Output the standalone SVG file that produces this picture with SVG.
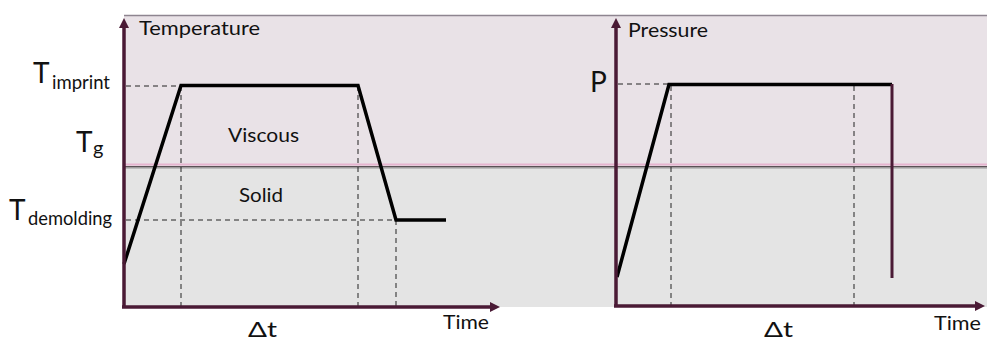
<svg xmlns="http://www.w3.org/2000/svg" width="987" height="342" viewBox="0 0 987 342">
<defs>
<style>
.lbl{font-family:Lato,"Open Sans","Liberation Sans",sans-serif;fill:#111}
.axis{stroke:#4a1a35;stroke-width:3.5;fill:none}
.curve{stroke:#000;stroke-width:3.5;fill:none;stroke-linejoin:miter}
.dash{stroke:#222;stroke-width:1;stroke-dasharray:5,4;fill:none}
</style>
<marker id="arr" markerWidth="10" markerHeight="10" refX="6" refY="5" orient="auto" markerUnits="userSpaceOnUse">
<path d="M0,0 L10,5 L0,10 Z" fill="#4a1a35"/>
</marker>
</defs>
<rect width="987" height="342" fill="#fff"/>
<g id="background">
<rect x="124" y="16" width="863" height="150" fill="#e9e2e7"/>
<rect x="124" y="166" width="863" height="141" fill="#e4e4e4"/>
<line x1="124" y1="15.5" x2="987" y2="15.5" stroke="#8e8590" stroke-width="1.5"/>
<line x1="124" y1="164.5" x2="987" y2="164.5" stroke="#e6b4cf" stroke-width="2"/>
<line x1="124" y1="166.8" x2="987" y2="166.8" stroke="#5a5256" stroke-width="1.6"/>
<line x1="124" y1="168.5" x2="987" y2="168.5" stroke="#bdbdbd" stroke-width="1.2"/>
</g>
<g id="connectors">
<g id="temp-guides">
<line class="dash" x1="126" y1="86" x2="181" y2="86"/>
<line class="dash" x1="181" y1="86" x2="181" y2="306"/>
<line class="dash" x1="358" y1="86" x2="358" y2="306"/>
<line class="dash" x1="126" y1="220" x2="396" y2="220"/>
<line class="dash" x1="396" y1="220" x2="396" y2="306"/>
</g>
<g id="press-guides">
<line class="dash" x1="618" y1="84" x2="669" y2="84"/>
<line class="dash" x1="671" y1="86" x2="671" y2="305"/>
<line class="dash" x1="854" y1="86" x2="854" y2="305"/>
</g>
<path class="curve" d="M124,264 L181,85.5 L358,85.5 L396,220 L446,220"/>
<path class="curve" d="M617,277 L669,84.5 L892,84.5"/>
<line x1="892" y1="84" x2="892" y2="278" stroke="#4a1a35" stroke-width="3"/>
<line class="axis" x1="124" y1="308" x2="124" y2="22" marker-end="url(#arr)"/>
<line class="axis" x1="122" y1="307" x2="496" y2="307" marker-end="url(#arr)"/>
<line class="axis" x1="616" y1="307" x2="616" y2="22" marker-end="url(#arr)"/>
<line class="axis" x1="614" y1="306" x2="981" y2="306" marker-end="url(#arr)"/>
</g>
<g id="temperature-labels">
<text class="lbl" x="139" y="35" font-size="20" textLength="121" lengthAdjust="spacingAndGlyphs">Temperature</text>
<text class="lbl" x="33" y="83" font-size="28">T</text>
<text class="lbl" x="52" y="89" font-size="20" textLength="58" lengthAdjust="spacingAndGlyphs">imprint</text>
<text class="lbl" x="76" y="152" font-size="28">T</text>
<text class="lbl" x="93" y="155" font-size="20">g</text>
<text class="lbl" x="9" y="220" font-size="28">T</text>
<text class="lbl" x="28" y="225" font-size="20" textLength="84" lengthAdjust="spacingAndGlyphs">demolding</text>
<text class="lbl" x="228" y="142" font-size="20" textLength="71" lengthAdjust="spacingAndGlyphs">Viscous</text>
<text class="lbl" x="239" y="202" font-size="20" textLength="44" lengthAdjust="spacingAndGlyphs">Solid</text>
<text class="lbl" x="248" y="337" font-size="22" textLength="29" lengthAdjust="spacingAndGlyphs">Δt</text>
<text class="lbl" x="443" y="329" font-size="19" textLength="46" lengthAdjust="spacingAndGlyphs">Time</text>
</g>
<g id="pressure-labels">
<text class="lbl" x="628" y="37" font-size="20" textLength="80" lengthAdjust="spacingAndGlyphs">Pressure</text>
<text class="lbl" x="590" y="92" font-size="28">P</text>
<text class="lbl" x="764" y="337" font-size="22" textLength="29" lengthAdjust="spacingAndGlyphs">Δt</text>
<text class="lbl" x="934" y="330" font-size="19" textLength="47" lengthAdjust="spacingAndGlyphs">Time</text>
</g>
</svg>
